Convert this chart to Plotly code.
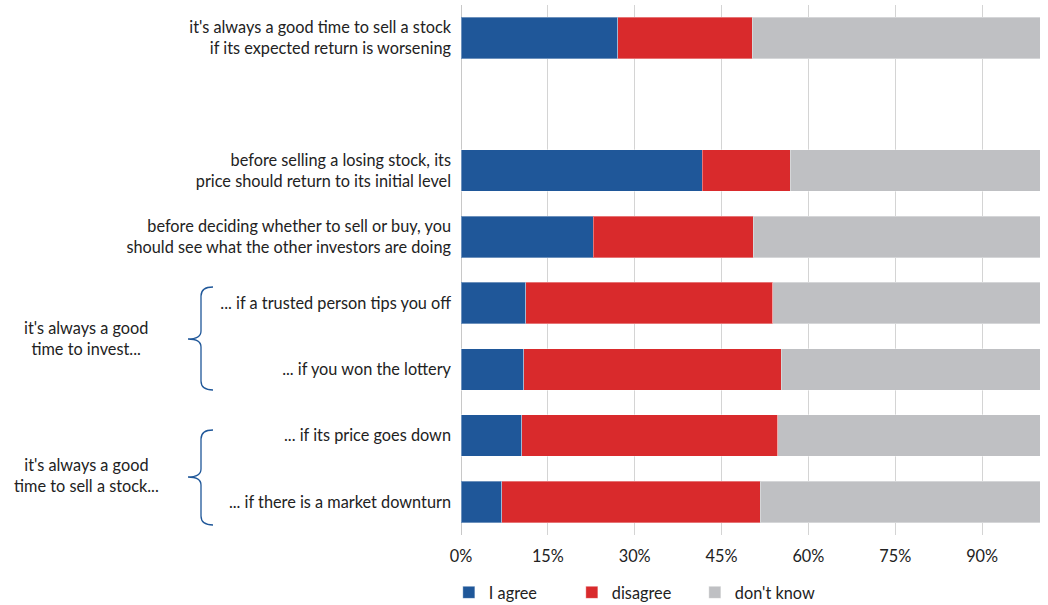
import plotly.graph_objects as go

# ---- data ----
categories = [
    "it's always a good time to sell a stock<br>if its expected return is worsening",
    "before selling a losing stock, its<br>price should return to its initial level",
    "before deciding whether to sell or buy, you<br>should see what the other investors are doing",
    "... if a trusted person tips you off",
    "... if you won the lottery",
    "... if its price goes down",
    "... if there is a market downturn",
]
agree = [27.1, 41.7, 22.8, 11.2, 10.8, 10.5, 7.0]
disagree = [23.2, 15.2, 27.7, 42.6, 44.5, 44.2, 44.7]
dont_know = [49.7, 43.1, 49.5, 46.2, 44.7, 45.3, 48.3]

series_names = ["I agree", "disagree", "don't know"]
series_colors = ["#1F5799", "#D92A2C", "#BFC0C3"]

# display order (bottom -> top), with one empty slot below the first item
spacer = " "
category_order = [
    categories[6], categories[5], categories[4], categories[3],
    categories[2], categories[1], spacer, categories[0],
]

group_labels = ["it's always a good<br>time to invest...",
                "it's always a good<br>time to sell a stock..."]

FS = 16.3

# ---- figure ----
fig = go.Figure()
for name, vals, col in zip(series_names, [agree, disagree, dont_know], series_colors):
    fig.add_trace(go.Bar(
        y=categories, x=vals, name=name, orientation="h",
        marker=dict(color=col, line=dict(color="rgba(255,255,255,0.35)", width=1)),
        hoverinfo="x+y",
    ))

W, H = 1048, 605
L, R, T, B = 461, 8, 5, 70
pw, ph = W - L - R, H - T - B


def px2paper(x, y):
    return (x - L) / pw, (H - B - y) / ph


def brace(x_end, x_mid, x_tip, y_top, y_mid, y_bot):
    pts = [
        ("M", [(x_end, y_top)]),
        ("Q", [(x_mid, y_top), (x_mid, y_top + 9)]),
        ("L", [(x_mid, y_mid - 8)]),
        ("Q", [(x_mid, y_mid), (x_tip, y_mid)]),
        ("Q", [(x_mid, y_mid), (x_mid, y_mid + 8)]),
        ("L", [(x_mid, y_bot - 9)]),
        ("Q", [(x_mid, y_bot), (x_end, y_bot)]),
    ]
    s = ""
    for cmd, ps in pts:
        s += cmd + " " + " ".join("%.5f,%.5f" % px2paper(*p) for p in ps) + " "
    return s.strip()


brace_color = "#1F5799"
for (yt, ym, yb) in [(287, 339, 390), (430, 477, 525)]:
    fig.add_shape(type="path", xref="paper", yref="paper",
                  path=brace(213, 201, 188, yt, ym, yb),
                  line=dict(color=brace_color, width=1.3))

for txt, yc in zip(group_labels, [338, 475]):
    xp, yp = px2paper(86, yc)
    fig.add_annotation(text=txt, xref="paper", yref="paper", x=xp, y=yp,
                       xanchor="center", yanchor="middle", showarrow=False,
                       align="center", font=dict(size=FS, color="#222222"))

fig.update_layout(
    width=W, height=H,
    barmode="stack", bargap=0.37,
    margin=dict(l=L, r=R, t=T, b=B, autoexpand=False),
    plot_bgcolor="white", paper_bgcolor="white",
    font=dict(family="Lato, 'Open Sans', sans-serif", size=FS, color="#222222"),
    showlegend=True,
    legend=dict(orientation="h", x=-0.021, xanchor="left", y=-0.109, yanchor="middle",
                font=dict(size=FS, color="#222222"), entrywidth=78,
                traceorder="normal", itemclick=False),
    xaxis=dict(range=[0, 100], tickmode="linear", tick0=0, dtick=15, ticksuffix="%",
               showgrid=True, gridcolor="#D4D4D4", gridwidth=1,
               zeroline=True, zerolinecolor="#C8C8C8", zerolinewidth=1,
               showline=False, ticks="", ticklabelstandoff=10,
               tickfont=dict(size=FS, color="#222222"), fixedrange=True),
    yaxis=dict(type="category", categoryorder="array", categoryarray=category_order,
               range=[-0.5, 7.5], showgrid=False, zeroline=False, showline=False,
               ticks="", ticklabelstandoff=9,
               tickfont=dict(size=FS, color="#222222"), fixedrange=True),
)

fig.write_html("out.html", config={"displayModeBar": False},
               post_script="document.body.style.margin='0px';")
